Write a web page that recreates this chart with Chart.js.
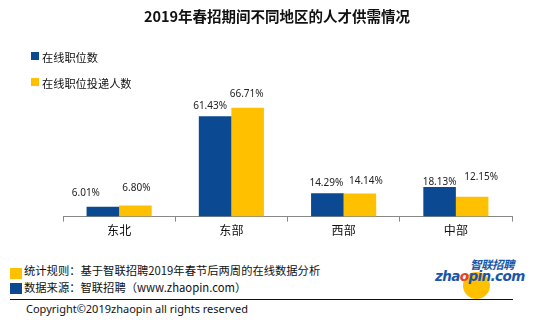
<!DOCTYPE html>
<html>
<head>
<meta charset="utf-8">
<script src="https://cdn.jsdelivr.net/npm/chart.js@4"></script>
<style>
    body { margin: 0; background: #fff; font-family: "Noto Sans CJK SC", "Noto Sans", sans-serif; color: #111; }
    #wrap { position: relative; width: 554px; height: 323px; overflow: hidden; }
    #chartBox { position: absolute; left: 0; top: 0; width: 554px; height: 240px; }
    .abs { position: absolute; white-space: nowrap; }
    .title { left: 0; width: 554px; top: 5px; text-align: center; font-size: 14.5px; font-weight: bold; }
    .sq { position: absolute; }
    .legend-text { font-size: 11.2px; }
    .foot-text { font-size: 11.3px; }
    .logo-cn { font-style: italic; font-weight: bold; color: #1a56a8; font-size: 11.5px; letter-spacing: -0.5px; }
    .logo-en { font-family: "DejaVu Sans", sans-serif; font-style: italic; font-weight: bold; color: #1a56a8; font-size: 13.5px; letter-spacing: -0.6px; }
</style>
</head>
<body>
<div id="wrap">
    <div id="chartBox"><canvas id="regionChart"></canvas></div>
    <div class="abs title">2019年春招期间不同地区的人才供需情况</div>

    <div class="sq" style="left:31px;top:52px;width:8px;height:8px;background:#0B4A92"></div>
    <div class="abs legend-text" style="left:42px;top:49px">在线职位数</div>
    <div class="sq" style="left:31px;top:78px;width:8px;height:8px;background:#FFC000"></div>
    <div class="abs legend-text" style="left:42px;top:75px">在线职位投递人数</div>

    <div class="sq" style="left:10px;top:268px;width:12px;height:11px;background:#FFC000"></div>
    <div class="abs foot-text" style="left:24px;top:262px">统计规则：基于智联招聘2019年春节后两周的在线数据分析</div>
    <div class="sq" style="left:10px;top:283px;width:12px;height:11px;background:#0B4A92"></div>
    <div class="abs foot-text" style="left:24px;top:279px">数据来源：智联招聘（www.zhaopin.com）</div>
    <div class="sq" style="left:10px;top:299px;width:503px;height:1px;background:#111"></div>
    <div class="abs" style="left:26px;top:301px;font-size:11px;font-family:'Noto Sans',sans-serif">Copyright©2019zhaopin all rights reserved</div>

    <!-- logo -->
    <div class="sq" style="left:463px;top:272px;width:27px;height:27px;border-radius:50%;background:#FFC000"></div>
    <div class="abs logo-cn" style="left:470px;top:256px">智联招聘</div>
    <div class="abs logo-en" style="left:435px;top:268px">zha<span style="color:#e8412a">o</span>pin.com</div>
</div>

<script>
const regions = ["东北", "东部", "西部", "中部"];
const jobPosts = [6.01, 61.43, 14.29, 18.13];
const applicants = [6.80, 66.71, 14.14, 12.15];

// hand-placed label nudges per dataset: [dx, rise above bar top]
const labelNudge = [
    [[-17, 14], [-5, 10], [-1, 10], [0, 5]],
    [[1, 17], [-1, 14], [6, 12], [9, 20]]
];

// value labels above each bar
const barLabels = {
    id: "barLabels",
    afterDatasetsDraw(chart) {
        const ctx = chart.ctx;
        ctx.save();
        ctx.font = "10px 'Noto Sans', sans-serif";
        ctx.fillStyle = "#222";
        ctx.textAlign = "center";
        ctx.textBaseline = "middle";
        chart.data.datasets.forEach((ds, i) => {
            chart.getDatasetMeta(i).data.forEach((bar, j) => {
                const [dx, rise] = labelNudge[i][j];
                ctx.fillText(ds.data[j].toFixed(2) + "%", bar.x + dx, bar.y - rise);
            });
        });
        ctx.restore();
    }
};

new Chart(document.getElementById("regionChart"), {
    type: "bar",
    data: {
        labels: regions,
        datasets: [
            { label: "在线职位数", data: jobPosts, backgroundColor: "#0B4A92" },
            { label: "在线职位投递人数", data: applicants, backgroundColor: "#FFC000" }
        ]
    },
    options: {
        responsive: true,
        maintainAspectRatio: false,
        animation: false,
        categoryPercentage: 0.58,
        barPercentage: 1,
        layout: { padding: { left: 63, right: 42, top: 86, bottom: 0 } },
        plugins: { legend: { display: false }, tooltip: { enabled: false } },
        scales: {
            y: { display: false, min: 0, max: 80 },
            x: {
                grid: { drawOnChartArea: false, drawTicks: true, tickLength: 5, offset: true, color: "#888" },
                border: { color: "#888" },
                ticks: { color: "#111", font: { size: 12, family: "'Noto Sans CJK SC'" }, padding: 2 }
            }
        }
    },
    plugins: [barLabels]
});
</script>
</body>
</html>
